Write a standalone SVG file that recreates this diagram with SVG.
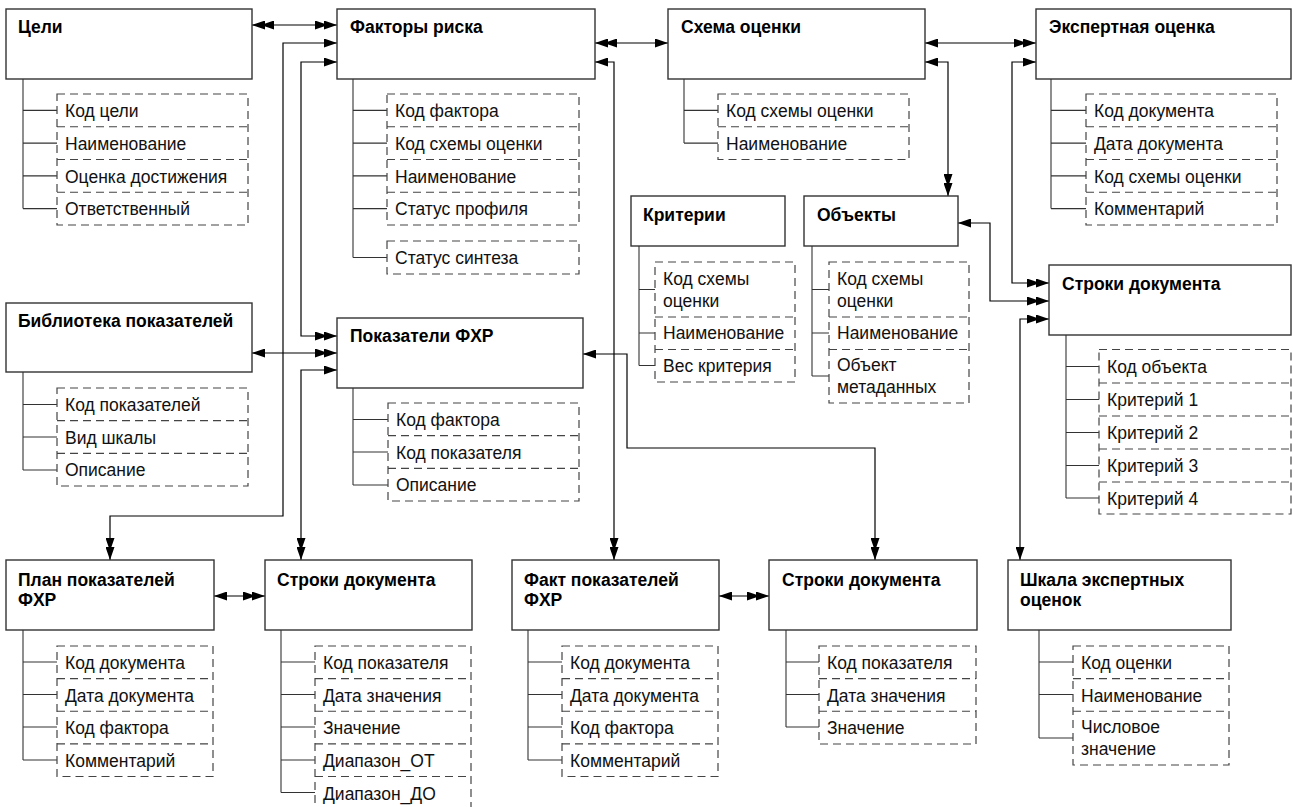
<svg xmlns="http://www.w3.org/2000/svg" width="1293" height="807" viewBox="0 0 1293 807">
  <style>
    .box { fill: #fff; stroke: #333; stroke-width: 1.4; }
    .title { font-family: "Liberation Sans", Arial, sans-serif; font-weight: bold; font-size: 17.5px; fill: #000; }
    .fld { font-family: "Liberation Sans", Arial, sans-serif; font-size: 17.5px; fill: #111; }
    .dash { fill: none; stroke: #444; stroke-width: 1.2; stroke-dasharray: 8 5; }
    .tree { fill: none; stroke: #333; stroke-width: 1.1; }
    .link { fill: none; stroke: #000; stroke-width: 1.2; }
  </style>
  <defs>
    <!-- single arrowhead: "one" end -->
    <marker id="one" viewBox="0 0 13 9" refX="13" refY="4.5" markerWidth="13" markerHeight="9" markerUnits="userSpaceOnUse" orient="auto-start-reverse">
      <path d="M0,0 L13,4.5 L0,9 Z" fill="#000"/>
    </marker>
    <!-- double arrowhead: "many" end -->
    <marker id="many" viewBox="0 0 22 9" refX="22" refY="4.5" markerWidth="22" markerHeight="9" markerUnits="userSpaceOnUse" orient="auto-start-reverse">
      <path d="M0,0 L13,4.5 L0,9 Z M9,0 L22,4.5 L9,9 Z" fill="#000"/>
    </marker>
  </defs>

  <!-- connectors -->
  <g id="connectors" class="link">
    <path d="M252,25 H337" marker-start="url(#many)" marker-end="url(#many)"/>
    <path d="M337,43 H283 V516 H110 V560" marker-start="url(#one)" marker-end="url(#many)"/>
    <path d="M337,62 H301 V336 H337" marker-start="url(#one)" marker-end="url(#many)"/>
    <path d="M337,370 H301 V560" marker-start="url(#one)" marker-end="url(#many)"/>
    <path d="M252,353 H337" marker-start="url(#one)" marker-end="url(#many)"/>
    <path d="M595,43 H668" marker-start="url(#many)" marker-end="url(#one)"/>
    <path d="M595,62 H614 V560" marker-start="url(#one)" marker-end="url(#many)"/>
    <path d="M583,354 H627 V448 H875 V560" marker-start="url(#one)" marker-end="url(#many)"/>
    <path d="M214,596 H265" marker-start="url(#one)" marker-end="url(#many)"/>
    <path d="M719,596 H769" marker-start="url(#one)" marker-end="url(#many)"/>
    <path d="M925,43 H1036" marker-start="url(#one)" marker-end="url(#many)"/>
    <path d="M925,62 H948 V196" marker-start="url(#one)" marker-end="url(#many)"/>
    <path d="M1036,62 H1012 V283 H1049" marker-start="url(#one)" marker-end="url(#many)"/>
    <path d="M958,223 H990 V301 H1049" marker-start="url(#one)" marker-end="url(#many)"/>
    <path d="M1049,319 H1020 V560" marker-start="url(#many)" marker-end="url(#one)"/>
  </g>

  <!-- Цели -->
  <g id="goals">
    <rect class="box" x="6" y="9" width="246" height="70"/>
    <text class="title" x="18" y="33">Цели</text>
    <path class="tree" d="M23,79 V208.6 M23,110.4 H57 M23,143.1 H57 M23,175.9 H57 M23,208.6 H57"/>
    <rect class="dash" x="57" y="94" width="191" height="131"/>
    <path class="dash" d="M57,126.75 H248 M57,159.5 H248 M57,192.25 H248"/>
    <text class="fld" x="65" y="117">Код цели</text>
    <text class="fld" x="65" y="149.75">Наименование</text>
    <text class="fld" x="65" y="182.5">Оценка достижения</text>
    <text class="fld" x="65" y="215.25">Ответственный</text>
  </g>

  <!-- Факторы риска -->
  <g id="risk-factors">
    <rect class="box" x="337" y="9" width="258" height="70"/>
    <text class="title" x="350" y="33">Факторы риска</text>
    <path class="tree" d="M353,79 V257.5 M353,110.4 H387 M353,143.1 H387 M353,175.9 H387 M353,208.6 H387 M353,257.5 H387"/>
    <rect class="dash" x="387" y="94" width="192" height="131"/>
    <path class="dash" d="M387,126.75 H579 M387,159.5 H579 M387,192.25 H579"/>
    <rect class="dash" x="387" y="241" width="192" height="33"/>
    <text class="fld" x="395" y="117">Код фактора</text>
    <text class="fld" x="395" y="149.75">Код схемы оценки</text>
    <text class="fld" x="395" y="182.5">Наименование</text>
    <text class="fld" x="395" y="215.25">Статус профиля</text>
    <text class="fld" x="395" y="264">Статус синтеза</text>
  </g>

  <!-- Схема оценки -->
  <g id="scheme">
    <rect class="box" x="668" y="9" width="257" height="70"/>
    <text class="title" x="681" y="33">Схема оценки</text>
    <path class="tree" d="M684,79 V143.1 M684,110.4 H718 M684,143.1 H718"/>
    <rect class="dash" x="718" y="94" width="191" height="65.5"/>
    <path class="dash" d="M718,126.75 H909"/>
    <text class="fld" x="726" y="117">Код схемы оценки</text>
    <text class="fld" x="726" y="149.75">Наименование</text>
  </g>

  <!-- Экспертная оценка -->
  <g id="expert">
    <rect class="box" x="1036" y="9" width="255" height="70"/>
    <text class="title" x="1049" y="33">Экспертная оценка</text>
    <path class="tree" d="M1051,79 V208.6 M1051,110.4 H1086 M1051,143.1 H1086 M1051,175.9 H1086 M1051,208.6 H1086"/>
    <rect class="dash" x="1086" y="94" width="191" height="131"/>
    <path class="dash" d="M1086,126.75 H1277 M1086,159.5 H1277 M1086,192.25 H1277"/>
    <text class="fld" x="1094" y="117">Код документа</text>
    <text class="fld" x="1094" y="149.75">Дата документа</text>
    <text class="fld" x="1094" y="182.5">Код схемы оценки</text>
    <text class="fld" x="1094" y="215.25">Комментарий</text>
  </g>

  <!-- Критерии -->
  <g id="criteria">
    <rect class="box" x="631" y="196" width="154" height="50"/>
    <text class="title" x="643" y="221">Критерии</text>
    <path class="tree" d="M639,246 V365.5 M639,289.5 H655 M639,333 H655 M639,365.5 H655"/>
    <rect class="dash" x="655" y="262" width="140" height="120"/>
    <path class="dash" d="M655,317 H795 M655,349.5 H795"/>
    <text class="fld" x="663" y="284.5">Код схемы</text>
    <text class="fld" x="663" y="307">оценки</text>
    <text class="fld" x="663" y="339">Наименование</text>
    <text class="fld" x="663" y="372">Вес критерия</text>
  </g>

  <!-- Объекты -->
  <g id="objects">
    <rect class="box" x="804" y="196" width="154" height="50"/>
    <text class="title" x="817" y="221">Объекты</text>
    <path class="tree" d="M812,246 V376 M812,289.5 H829 M812,333 H829 M812,376 H829"/>
    <rect class="dash" x="829" y="262" width="140" height="141"/>
    <path class="dash" d="M829,317 H969 M829,349.5 H969"/>
    <text class="fld" x="837" y="284.5">Код схемы</text>
    <text class="fld" x="837" y="307">оценки</text>
    <text class="fld" x="837" y="339">Наименование</text>
    <text class="fld" x="837" y="371">Объект</text>
    <text class="fld" x="837" y="393">метаданных</text>
  </g>

  <!-- Строки документа (экспертная оценка) -->
  <g id="expert-rows">
    <rect class="box" x="1049" y="265" width="242" height="70"/>
    <text class="title" x="1062" y="290">Строки документа</text>
    <path class="tree" d="M1066,335 V498 M1066,366.5 H1099 M1066,399.5 H1099 M1066,432.5 H1099 M1066,465.5 H1099 M1066,498 H1099"/>
    <rect class="dash" x="1099" y="349.5" width="192" height="164.5"/>
    <path class="dash" d="M1099,383 H1291 M1099,416 H1291 M1099,449 H1291 M1099,482 H1291"/>
    <text class="fld" x="1107" y="372.5">Код объекта</text>
    <text class="fld" x="1107" y="405.5">Критерий 1</text>
    <text class="fld" x="1107" y="438.5">Критерий 2</text>
    <text class="fld" x="1107" y="471.5">Критерий 3</text>
    <text class="fld" x="1107" y="504.5">Критерий 4</text>
  </g>

  <!-- Библиотека показателей -->
  <g id="library">
    <rect class="box" x="6" y="303" width="246" height="69"/>
    <text class="title" x="18" y="327">Библиотека показателей</text>
    <path class="tree" d="M23,372 V470 M23,404.5 H57 M23,437 H57 M23,470 H57"/>
    <rect class="dash" x="57" y="388" width="191" height="98"/>
    <path class="dash" d="M57,420.7 H248 M57,453.3 H248"/>
    <text class="fld" x="65" y="411">Код показателей</text>
    <text class="fld" x="65" y="443.7">Вид шкалы</text>
    <text class="fld" x="65" y="476.3">Описание</text>
  </g>

  <!-- Показатели ФХР -->
  <g id="indicators">
    <rect class="box" x="337" y="318" width="246" height="70"/>
    <text class="title" x="350" y="342">Показатели ФХР</text>
    <path class="tree" d="M353,388 V485 M353,419.5 H388 M353,452 H388 M353,485 H388"/>
    <rect class="dash" x="388" y="403" width="191" height="98"/>
    <path class="dash" d="M388,435.7 H579 M388,468.3 H579"/>
    <text class="fld" x="396" y="426">Код фактора</text>
    <text class="fld" x="396" y="458.7">Код показателя</text>
    <text class="fld" x="396" y="491.3">Описание</text>
  </g>

  <!-- План показателей ФХР -->
  <g id="plan">
    <rect class="box" x="6" y="560" width="208" height="70"/>
    <text class="title" x="18" y="586">План показателей</text>
    <text class="title" x="18" y="606">ФХР</text>
    <path class="tree" d="M23,630 V760 M23,662 H57 M23,694.5 H57 M23,727 H57 M23,760 H57"/>
    <rect class="dash" x="57" y="646" width="156" height="130.5"/>
    <path class="dash" d="M57,678.6 H213 M57,711.25 H213 M57,743.9 H213"/>
    <text class="fld" x="65" y="669">Код документа</text>
    <text class="fld" x="65" y="701.6">Дата документа</text>
    <text class="fld" x="65" y="734.25">Код фактора</text>
    <text class="fld" x="65" y="767">Комментарий</text>
  </g>

  <!-- Строки документа (план) -->
  <g id="plan-rows">
    <rect class="box" x="265" y="560" width="207" height="70"/>
    <text class="title" x="277" y="586">Строки документа</text>
    <path class="tree" d="M281,630 V792.5 M281,662 H315 M281,694.5 H315 M281,727 H315 M281,760 H315 M281,792.5 H315"/>
    <rect class="dash" x="315" y="646" width="156" height="163"/>
    <path class="dash" d="M315,678.6 H471 M315,711.25 H471 M315,743.9 H471 M315,776.5 H471"/>
    <text class="fld" x="323" y="669">Код показателя</text>
    <text class="fld" x="323" y="701.6">Дата значения</text>
    <text class="fld" x="323" y="734.25">Значение</text>
    <text class="fld" x="323" y="767">Диапазон_ОТ</text>
    <text class="fld" x="323" y="799.5">Диапазон_ДО</text>
  </g>

  <!-- Факт показателей ФХР -->
  <g id="fact">
    <rect class="box" x="512" y="560" width="207" height="70"/>
    <text class="title" x="524" y="586">Факт показателей</text>
    <text class="title" x="524" y="606">ФХР</text>
    <path class="tree" d="M528,630 V760 M528,662 H562 M528,694.5 H562 M528,727 H562 M528,760 H562"/>
    <rect class="dash" x="562" y="646" width="156" height="130.5"/>
    <path class="dash" d="M562,678.6 H718 M562,711.25 H718 M562,743.9 H718"/>
    <text class="fld" x="570" y="669">Код документа</text>
    <text class="fld" x="570" y="701.6">Дата документа</text>
    <text class="fld" x="570" y="734.25">Код фактора</text>
    <text class="fld" x="570" y="767">Комментарий</text>
  </g>

  <!-- Строки документа (факт) -->
  <g id="fact-rows">
    <rect class="box" x="769" y="560" width="208" height="70"/>
    <text class="title" x="782" y="586">Строки документа</text>
    <path class="tree" d="M786,630 V727 M786,662 H819 M786,694.5 H819 M786,727 H819"/>
    <rect class="dash" x="819" y="646" width="157" height="98"/>
    <path class="dash" d="M819,678.6 H976 M819,711.25 H976"/>
    <text class="fld" x="827" y="669">Код показателя</text>
    <text class="fld" x="827" y="701.6">Дата значения</text>
    <text class="fld" x="827" y="734.25">Значение</text>
  </g>

  <!-- Шкала экспертных оценок -->
  <g id="scale">
    <rect class="box" x="1008" y="560" width="223" height="70"/>
    <text class="title" x="1020" y="586">Шкала экспертных</text>
    <text class="title" x="1020" y="606">оценок</text>
    <path class="tree" d="M1039,630 V738 M1039,662 H1073 M1039,694.5 H1073 M1039,738 H1073"/>
    <rect class="dash" x="1073" y="646" width="156" height="119"/>
    <path class="dash" d="M1073,678.6 H1229 M1073,711.25 H1229"/>
    <text class="fld" x="1081" y="669">Код оценки</text>
    <text class="fld" x="1081" y="701.6">Наименование</text>
    <text class="fld" x="1081" y="733">Числовое</text>
    <text class="fld" x="1081" y="755">значение</text>
  </g>
</svg>
